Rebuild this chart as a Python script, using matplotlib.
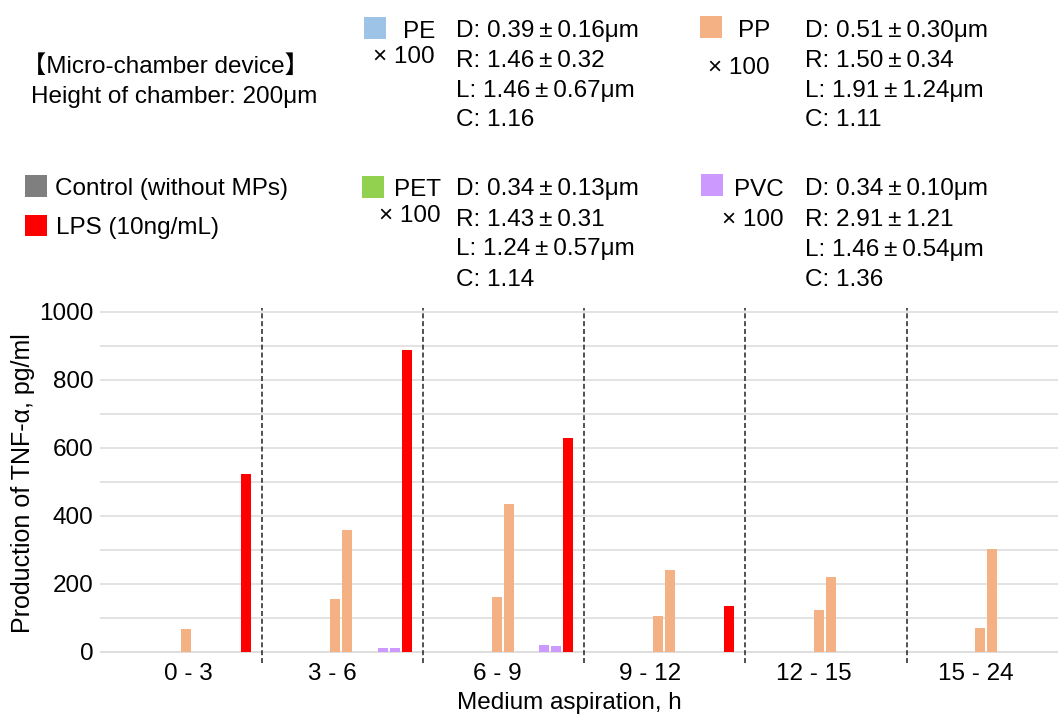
import numpy as np
import matplotlib
import matplotlib.pyplot as plt
from matplotlib.patches import Rectangle

matplotlib.use("Agg")
plt.rcParams["font.family"] = ["Liberation Sans", "Noto Sans CJK JP", "DejaVu Sans"]

# data
categories = ["0 - 3", "3 - 6", "6 - 9", "9 - 12", "12 - 15", "15 - 24"]
series_names = ["Control", "PE", "PE x100", "PP", "PP x100",
                "PET", "PET x100", "PVC", "PVC x100", "LPS"]
control = [0, 0, 0, 0, 0, 0]
pe = [0, 0, 0, 0, 0, 0]
pe_x100 = [0, 0, 0, 0, 0, 0]
pp = [0, 154, 162, 106, 122, 70]
pp_x100 = [67, 359, 435, 239, 219, 301]
pet = [0, 0, 0, 0, 0, 0]
pet_x100 = [0, 0, 0, 0, 0, 0]
pvc = [0, 12, 21, 0, 0, 0]
pvc_x100 = [0, 10, 17, 0, 0, 0]
lps = [522, 887, 629, 134, 0, 0]
yticks = [0, 100, 200, 300, 400, 500, 600, 700, 800, 900, 1000]
ytick_labels = ["0", "", "200", "", "400", "", "600", "", "800", "", "1000"]

GRAY = "#7f7f7f"
RED = "#ff0000"
BLUE = "#9dc3e6"
ORANGE = "#f4b183"
GREEN = "#92d050"
PURPLE = "#cc99ff"

FS = 17.5


def main():
  values = [control, pe, pe_x100, pp, pp_x100, pet, pet_x100, pvc, pvc_x100, lps]
  colors = [GRAY, BLUE, BLUE, ORANGE, ORANGE, GREEN, GREEN, PURPLE, PURPLE, RED]

  fig = plt.figure(figsize=(10.58, 7.15), dpi=100)
  ax = fig.add_axes([0.0949, 0.0729, 0.9051, 0.4959])

  x = np.arange(len(categories))
  step = 0.0738
  for k, (vals, c) in enumerate(zip(values, colors)):
    ax.bar(x - 0.264 + step * k, vals, width=0.062, color=c, linewidth=0, zorder=3)

  # group separators
  for b in x[:-1] + 0.5:
    ax.axvline(b, color="#333333", lw=1.2, linestyle=(0, (3, 1.7)), zorder=4)

  ax.set_xlim(-0.5, 5.438)
  ax.set_ylim(-33, 1010)
  ax.set_yticks(yticks)
  ax.set_yticklabels(ytick_labels, fontsize=FS)
  # category labels sit a bit off the group centres in the original
  label_shift = [0.043, -0.061, -0.037, -0.089, -0.076, -0.072]
  ax.set_xticks(x + np.array(label_shift))
  ax.set_xticklabels(categories, fontsize=FS)
  ax.tick_params(axis="both", length=0)
  ax.tick_params(axis="y", pad=5)
  ax.tick_params(axis="x", pad=0)
  for s in ax.spines.values():
    s.set_visible(False)
  ax.grid(axis="y", color="#e0e0e0", lw=1.3, zorder=0)
  ax.axhline(0, color="#d0d0d0", lw=1.3, zorder=1)

  # overlay in pixel coordinates for the legend block and axis titles
  ov = fig.add_axes([0, 0, 1, 1], facecolor="none")
  ov.set_xlim(0, 1058)
  ov.set_ylim(715, 0)
  ov.axis("off")

  def box(x0, y0, c):
    ov.add_patch(Rectangle((x0, y0), 21.5, 21.5, color=c, lw=0))

  def txt(x0, y0, s, ha="left"):
    ov.text(x0, y0, s, fontsize=FS, ha=ha, va="baseline")

  pm = "\u2009\u00b1\u2009"
  txt(22, 72.5, "\u3010Micro-chamber device\u3011")
  txt(31, 103, "Height of chamber: 200\u03bcm")

  box(25, 175, GRAY)
  txt(55, 195, "Control (without MPs)")
  box(25, 214.5, RED)
  txt(56, 234, "LPS (10ng/mL)")

  legend = [
    ("PE", BLUE, 364, 17, 435, 37.5, 63, 456.5, [37, 67, 97, 126],
     ["D: 0.39" + pm + "0.16\u03bcm", "R: 1.46" + pm + "0.32",
      "L: 1.46" + pm + "0.67\u03bcm", "C: 1.16"]),
    ("PP", ORANGE, 700, 16, 770, 37, 73.5, 805, [37, 67, 97, 126],
     ["D: 0.51" + pm + "0.30\u03bcm", "R: 1.50" + pm + "0.34",
      "L: 1.91" + pm + "1.24\u03bcm", "C: 1.11"]),
    ("PET", GREEN, 362, 176, 441, 195.5, 222, 456.5, [195.5, 225.5, 255.5, 285.5],
     ["D: 0.34" + pm + "0.13\u03bcm", "R: 1.43" + pm + "0.31",
      "L: 1.24" + pm + "0.57\u03bcm", "C: 1.14"]),
    ("PVC", PURPLE, 701, 174, 784, 195.5, 226.5, 805, [195.5, 226, 256, 286],
     ["D: 0.34" + pm + "0.10\u03bcm", "R: 2.91" + pm + "1.21",
      "L: 1.46" + pm + "0.54\u03bcm", "C: 1.36"]),
  ]
  for name, c, bx, by, rx, ny, my, sx, sy, lines in legend:
    box(bx, by, c)
    txt(rx, ny, name, ha="right")
    txt(rx, my, "\u00d7 100", ha="right")
    for yy, line in zip(sy, lines):
      txt(sx, yy, line)

  ov.text(23, 483, "Production of TNF-\u03b1, pg/ml", fontsize=FS + 0.5,
          rotation=90, ha="center", va="center")
  ov.text(569, 708.5, "Medium aspiration, h", fontsize=FS, ha="center", va="baseline")

  fig.savefig("out.png", dpi=100)


if __name__ == '__main__':
  main()
